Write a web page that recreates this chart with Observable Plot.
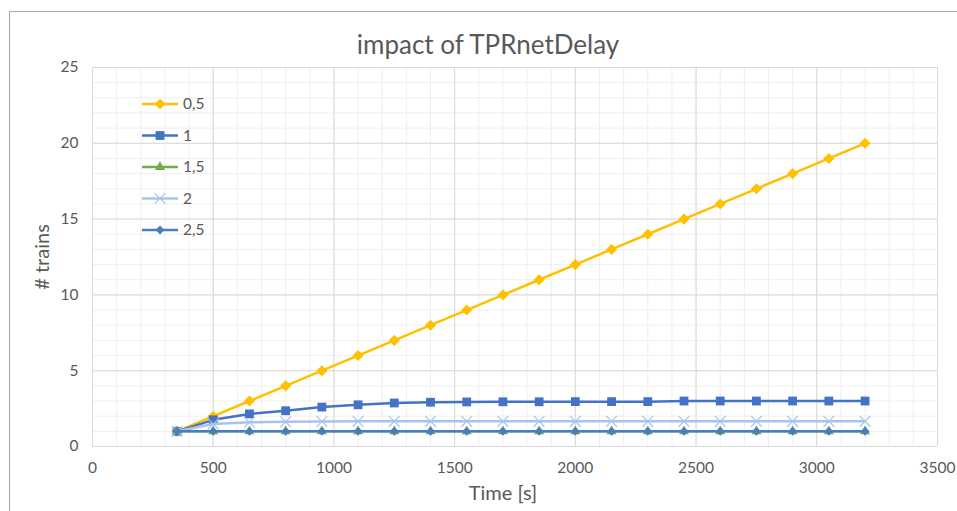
<!DOCTYPE html>
<html>
<head>
<meta charset="utf-8">
<script src="https://cdn.jsdelivr.net/npm/d3@7"></script>
<script src="https://cdn.jsdelivr.net/npm/@observablehq/plot@0.6"></script>
<style>
  html, body { margin: 0; padding: 0; background: #fff; }
  #chart { width: 957px; height: 511px; overflow: hidden; }
</style>
</head>
<body>
<div id="chart"></div>
<script>
// ---- data ----
const times = [350, 500, 650, 800, 950, 1100, 1250, 1400, 1550, 1700, 1850, 2000, 2150, 2300, 2450, 2600, 2750, 2900, 3050, 3200];
const seriesNames = ["0,5", "1", "1,5", "2", "2,5"];
const s05 = [1, 2, 3, 4, 5, 6, 7, 8, 9, 10, 11, 12, 13, 14, 15, 16, 17, 18, 19, 20];
const s1  = [1, 1.76, 2.15, 2.36, 2.6, 2.75, 2.87, 2.92, 2.94, 2.95, 2.95, 2.96, 2.96, 2.96, 3, 3, 3, 3, 3, 3];
const s15 = [1, 1, 1, 1, 1, 1, 1, 1, 1, 1, 1, 1, 1, 1, 1, 1, 1, 1, 1, 1];
const s2  = [1, 1.48, 1.6, 1.63, 1.65, 1.66, 1.66, 1.66, 1.66, 1.66, 1.66, 1.66, 1.66, 1.66, 1.66, 1.66, 1.66, 1.66, 1.66, 1.66];
const s25 = [1, 1, 1, 1, 1, 1, 1, 1, 1, 1, 1, 1, 1, 1, 1, 1, 1, 1, 1, 1];
const xTicks = [0, 500, 1000, 1500, 2000, 2500, 3000, 3500];
const yTicks = [0, 5, 10, 15, 20, 25];
const titleText = "impact of TPRnetDelay";
const xLabel = "Time [s]";
const yLabel = "# trains";

// ---- styling ----
const values = [s05, s1, s15, s2, s25];
const colors = ["#FFC000", "#4472C4", "#70AD47", "#A9C4EB", "#4A7EBB"];
const symbols = ["diamond2", "square2", "triangle2", "times", "diamond2"];
const radii = [5.0, 5.6, 4.8, 5.0, 4.0];
const d3Symbols = {diamond2: d3.symbolDiamond2, square2: d3.symbolSquare2, triangle2: d3.symbolTriangle2, times: d3.symbolTimes};

const xMinor = d3.range(0, 3501, 100);
const yMinor = d3.range(0, 26, 1);

const series = seriesNames.map((name, i) => times.map((t, j) => ({time: t, value: values[i][j], name})));

const font = "Lato, 'Open Sans', sans-serif";
const textColor = "#595959";

const marks = [
  Plot.ruleX(xMinor, {stroke: "#efefef", strokeWidth: 1}),
  Plot.ruleY(yMinor, {stroke: "#efefef", strokeWidth: 1}),
  Plot.ruleX(xTicks, {stroke: "#d9d9d9", strokeWidth: 1}),
  Plot.ruleY(yTicks, {stroke: "#d9d9d9", strokeWidth: 1}),
];
series.forEach((data, i) => {
  marks.push(Plot.line(data, {x: "time", y: "value", stroke: colors[i], strokeWidth: 2.5}));
  marks.push(Plot.dot(data, {
    x: "time", y: "value", symbol: () => symbols[i], r: radii[i],
    fill: symbols[i] === "times" ? "none" : colors[i],
    stroke: symbols[i] === "times" ? colors[i] : "none",
    strokeWidth: symbols[i] === "times" ? 1.2 : 0
  }));
});
marks.push(
  Plot.text([titleText], {frameAnchor: "top", dx: -27, dy: -22, lineAnchor: "middle", fontSize: 26, fill: textColor}),
  Plot.text([yLabel], {frameAnchor: "left", dx: -50, rotate: -90, lineAnchor: "middle", textAnchor: "middle", fontSize: 20, fill: textColor}),
  Plot.text([xLabel], {frameAnchor: "bottom", dx: -12, dy: 47, lineAnchor: "middle", fontSize: 20, fill: textColor})
);

const chart = Plot.plot({
  width: 957,
  height: 511,
  marginLeft: 92,
  marginRight: 20,
  marginTop: 67,
  marginBottom: 65,
  style: {fontFamily: font, fontSize: "15.5px", color: textColor, background: "#fff"},
  x: {domain: [0, 3500], ticks: xTicks, tickSize: 0, tickPadding: 15, tickFormat: d => String(d), label: null},
  y: {domain: [0, 25], ticks: yTicks, tickSize: 0, tickPadding: 14, tickFormat: d => String(d), label: null},
  symbol: {type: "identity"},
  marks
});

document.getElementById("chart").appendChild(chart);

// outer chart border (top & left visible)
const svg = d3.select(chart);
svg.insert("rect", ":first-child")
  .attr("x", 9.5).attr("y", 11.5).attr("width", 980).attr("height", 520)
  .attr("fill", "none").attr("stroke", "#a6a6a6").attr("stroke-width", 1);

// legend
const lg = svg.append("g").attr("font-family", font).attr("font-size", 15.5)
  .attr("fill", textColor).attr("text-anchor", "start");
seriesNames.forEach((name, i) => {
  const y = 104 + i * 31.5;
  const g = lg.append("g");
  g.append("line").attr("x1", 142).attr("x2", 178).attr("y1", y).attr("y2", y)
    .attr("stroke", colors[i]).attr("stroke-width", 2.5);
  const isX = symbols[i] === "times";
  g.append("path")
    .attr("d", d3.symbol(d3Symbols[symbols[i]], Math.PI * radii[i] * radii[i])())
    .attr("transform", `translate(160,${y})`)
    .attr("fill", isX ? "none" : colors[i])
    .attr("stroke", isX ? colors[i] : "none")
    .attr("stroke-width", isX ? 1.2 : 0);
  g.append("text").attr("x", 183).attr("y", y).attr("dy", "0.35em").text(name);
});
</script>
</body>
</html>
